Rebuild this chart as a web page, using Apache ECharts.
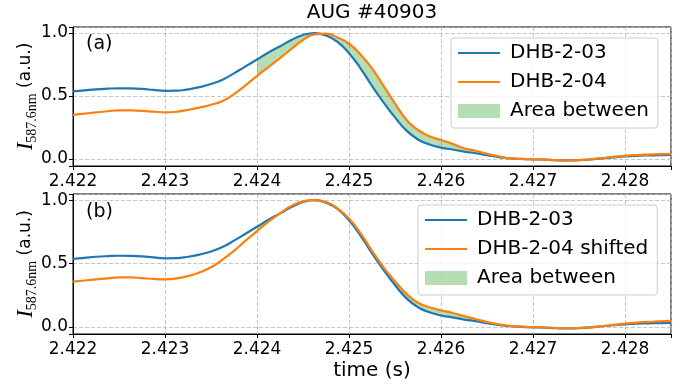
<!DOCTYPE html>
<html>
<head>
<meta charset="utf-8">
<script src="https://cdn.jsdelivr.net/npm/echarts@6/dist/echarts.min.js"></script>
<style>
  html, body { margin: 0; padding: 0; background: #fff; }
  #chart { width: 680px; height: 385px; }
</style>
</head>
<body>
<div id="chart"></div>
<script>
// time axis (s), 0.125 ms steps
var times = [2.422, 2.422125, 2.42225, 2.422375, 2.4225, 2.422625, 2.42275, 2.422875,
  2.423, 2.423125, 2.42325, 2.423375, 2.4235, 2.423625, 2.42375, 2.423875,
  2.424, 2.424125, 2.42425, 2.424375, 2.4245, 2.424625, 2.42475, 2.424875,
  2.425, 2.425125, 2.42525, 2.425375, 2.4255, 2.425625, 2.42575, 2.425875,
  2.426, 2.426125, 2.42625, 2.426375, 2.4265, 2.426625, 2.42675, 2.426875,
  2.427, 2.427125, 2.42725, 2.427375, 2.4275, 2.427625, 2.42775, 2.427875,
  2.428, 2.428125, 2.42825, 2.428375, 2.4285];

// normalised intensities
var dhb203 = [0.537, 0.545, 0.553, 0.558, 0.561, 0.56, 0.556, 0.548,
  0.541, 0.542, 0.553, 0.57, 0.595, 0.63, 0.68, 0.735,
  0.79, 0.845, 0.895, 0.945, 0.985, 1.0, 0.98, 0.93,
  0.84, 0.72, 0.58, 0.45, 0.33, 0.225, 0.155, 0.115,
  0.09, 0.075, 0.058, 0.045, 0.03, 0.015, 0.005, 0.0,
  -0.003, -0.006, -0.01, -0.012, -0.01, -0.004, 0.005, 0.013,
  0.02, 0.025, 0.028, 0.03, 0.032];

var dhb204 = [0.35, 0.36, 0.37, 0.379, 0.386, 0.386, 0.382, 0.376,
  0.37, 0.375, 0.39, 0.408, 0.43, 0.46, 0.515, 0.585,
  0.66, 0.73, 0.80, 0.875, 0.945, 0.99, 0.995, 0.965,
  0.915, 0.83, 0.72, 0.58, 0.44, 0.31, 0.23, 0.18,
  0.15, 0.12, 0.085, 0.065, 0.04, 0.02, 0.005, 0.0,
  -0.003, -0.006, -0.01, -0.012, -0.01, -0.003, 0.007, 0.016,
  0.025, 0.031, 0.035, 0.038, 0.04];

var dhb204Shifted = [0.357, 0.366, 0.375, 0.383, 0.39, 0.39, 0.385, 0.378,
  0.375, 0.382, 0.40, 0.43, 0.47, 0.53, 0.60, 0.68,
  0.755, 0.83, 0.895, 0.955, 0.99, 1.0, 0.985, 0.935,
  0.855, 0.74, 0.60, 0.47, 0.36, 0.26, 0.19, 0.155,
  0.13, 0.11, 0.085, 0.062, 0.038, 0.02, 0.008, 0.002,
  -0.002, -0.005, -0.008, -0.01, -0.008, -0.003, 0.006, 0.016,
  0.026, 0.034, 0.04, 0.044, 0.048];

var fillStart = 2.424;  // area between is shaded from here on

var font = 'DejaVu Sans';
var blue = '#1f77b4', orange = '#ff7f0e', fillColor = 'rgba(44,160,44,0.35)';

function pairs(ys) {
  return times.map(function (t, i) { return [t, ys[i]]; });
}

// polygon between two curves, drawn through the axis scales
function areaBetween(a, b) {
  return function (params, api) {
    var upper = [], lower = [];
    for (var i = 0; i < times.length; i++) {
      if (times[i] < fillStart - 1e-9) continue;
      upper.push(api.coord([times[i], a[i]]));
      lower.push(api.coord([times[i], b[i]]));
    }
    return {
      type: 'polygon',
      shape: { points: upper.concat(lower.reverse()) },
      style: { fill: fillColor }
    };
  };
}

function xFmt(v) {
  var k = Math.round(v * 1000);
  return Math.abs(v * 1000 - k) < 1e-6 ? (k / 1000).toFixed(3) : '';
}
function yFmt(v) {
  var k = Math.round(v * 2);
  return Math.abs(v * 2 - k) < 1e-6 ? (k / 2).toFixed(1) : '';
}

function xAxis(idx, name) {
  return {
    type: 'value', gridIndex: idx, min: 2.422, max: 2.4285, splitNumber: 6,
    name: name || '', nameLocation: 'middle', nameGap: 27, nameMoveOverlap: false,
    nameTextStyle: { fontFamily: font, fontSize: 20, color: '#000' },
    axisLine: { show: true, onZero: false, lineStyle: { color: '#000', width: 1 } },
    axisTick: { show: true, length: 4, lineStyle: { color: '#000' } },
    axisLabel: { formatter: xFmt, fontFamily: font, fontSize: 17, color: '#000', margin: 7,
      showMinLabel: true, showMaxLabel: true },
    splitLine: { show: true, lineStyle: { color: '#b8b8b8', width: 0.8, type: [4, 2] } }
  };
}
function yAxis(idx) {
  return {
    type: 'value', gridIndex: idx, min: -0.056, max: 1.048, splitNumber: 2,
    name: '{i|I}{s|587.6nm} (a.u.)', nameLocation: 'middle', nameRotate: 90, nameGap: 34,
    nameMoveOverlap: false,
    nameTextStyle: {
      fontFamily: font, fontSize: 17, color: '#000',
      rich: {
        i: { fontFamily: 'Liberation Serif', fontStyle: 'italic', fontSize: 23, lineHeight: 26 },
        s: { fontFamily: 'Liberation Serif', fontSize: 14, lineHeight: 14, verticalAlign: 'bottom' }
      }
    },
    axisLine: { show: true, lineStyle: { color: '#000', width: 1 } },
    axisTick: { show: true, length: 4, lineStyle: { color: '#000' } },
    axisLabel: { formatter: yFmt, fontFamily: font, fontSize: 17, color: '#000', margin: 5 },
    splitLine: { show: true, lineStyle: { color: '#b8b8b8', width: 0.8, type: [4, 2] } }
  };
}

function line(name, ys, color, idx) {
  return {
    type: 'line', name: name, xAxisIndex: idx, yAxisIndex: idx,
    data: pairs(ys), smooth: 0.5, showSymbol: false, symbol: 'none',
    lineStyle: { color: color, width: 2.2 }, itemStyle: { color: color },
    silent: true, z: 3
  };
}
function fill(a, b, idx) {
  return {
    type: 'custom', name: 'Area between', xAxisIndex: idx, yAxisIndex: idx,
    data: [[fillStart, 0]], renderItem: areaBetween(a, b), clip: true,
    itemStyle: { color: fillColor }, silent: true, z: 2
  };
}

function legend(names, left, top) {
  return {
    orient: 'vertical', left: left, top: top,
    data: [
      { name: names[0], itemStyle: { opacity: 0 } },
      { name: names[1], itemStyle: { opacity: 0 } },
      { name: 'Area between', icon: 'rect' }
    ],
    itemWidth: 42, itemHeight: 14, itemGap: 9,
    padding: [5, 9, 7, 6],
    backgroundColor: 'rgba(255,255,255,0.8)', borderColor: '#cccccc', borderWidth: 1, borderRadius: 3,
    textStyle: { fontFamily: font, fontSize: 20, color: '#000', lineHeight: 20, padding: [0, 0, 0, 5] },
    selectedMode: false
  };
}

var chart = echarts.init(document.getElementById('chart'), null, { renderer: 'canvas' });
chart.setOption({
  animation: false,
  backgroundColor: '#fff',
  grid: [
    { left: 73, right: 9, top: 27, height: 139, show: true, borderColor: '#000', borderWidth: 1, backgroundColor: 'transparent' },
    { left: 73, right: 9, top: 194, height: 140, show: true, borderColor: '#000', borderWidth: 1, backgroundColor: 'transparent' }
  ],
  xAxis: [xAxis(0), xAxis(1, 'time (s)')],
  yAxis: [yAxis(0), yAxis(1)],
  legend: [
    legend(['DHB-2-03', 'DHB-2-04'], 451, 38),
    legend(['DHB-2-03', 'DHB-2-04 shifted'], 418, 205)
  ],
  graphic: [
    { type: 'text', x: 372, y: 13, style: { text: 'AUG #40903', font: '20px "DejaVu Sans"', fill: '#000', align: 'center', verticalAlign: 'middle' } },
    { type: 'text', x: 86, y: 44, style: { text: '(a)', font: '19px "DejaVu Sans"', fill: '#000', align: 'left', verticalAlign: 'middle' } },
    { type: 'text', x: 86, y: 212, style: { text: '(b)', font: '19px "DejaVu Sans"', fill: '#000', align: 'left', verticalAlign: 'middle' } }
  ],
  series: [
    fill(dhb203, dhb204, 0),
    line('DHB-2-03', dhb203, blue, 0),
    line('DHB-2-04', dhb204, orange, 0),
    fill(dhb203, dhb204Shifted, 1),
    line('DHB-2-03', dhb203, blue, 1),
    line('DHB-2-04 shifted', dhb204Shifted, orange, 1)
  ]
});
</script>
</body>
</html>
